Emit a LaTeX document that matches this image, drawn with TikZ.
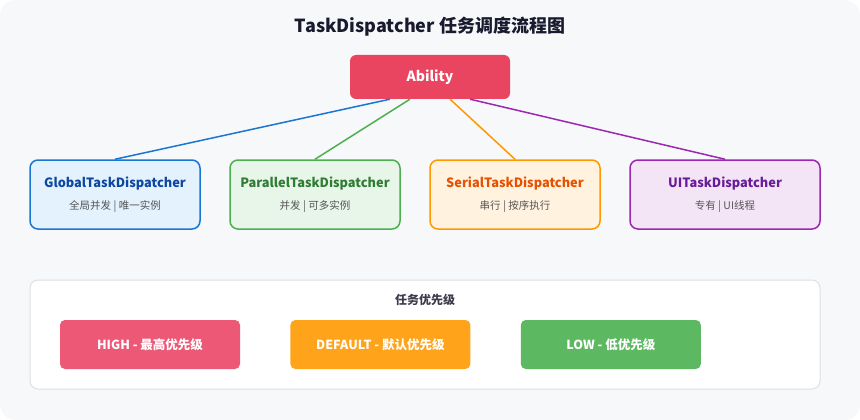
\documentclass[tikz,border=0pt]{standalone}
\usepackage{fontspec}
\setmainfont{Noto Sans CJK SC}
\usetikzlibrary{positioning,calc}
\definecolor{PageGray}{HTML}{F7F8FA}
\definecolor{TitleInk}{HTML}{1A1A2E}
\definecolor{AbilityRed}{HTML}{E94560}
\definecolor{GlobalBlue}{HTML}{1976D2}
\definecolor{GlobalFill}{HTML}{E3F2FD}
\definecolor{GlobalInk}{HTML}{0D47A1}
\definecolor{ParallelGreen}{HTML}{4CAF50}
\definecolor{ParallelFill}{HTML}{E8F5E9}
\definecolor{ParallelInk}{HTML}{2E7D32}
\definecolor{SerialOrange}{HTML}{FF9800}
\definecolor{SerialFill}{HTML}{FFF3E0}
\definecolor{SerialInk}{HTML}{E65100}
\definecolor{UIPurple}{HTML}{9C27B0}
\definecolor{UIFill}{HTML}{F3E5F5}
\definecolor{UIInk}{HTML}{6A1B9A}
\definecolor{SubGray}{HTML}{555555}
\definecolor{PanelLine}{HTML}{E0E0E0}
\definecolor{HighRed}{HTML}{EC5875}
\definecolor{DefaultAmber}{HTML}{FFA31A}
\definecolor{LowGreen}{HTML}{5DB862}

\begin{document}
\begin{tikzpicture}[
        x=1pt,y=-1pt,
        node distance=28.5pt,
        dispatcher/.style n args={2}{draw=#1,fill=#2,line width=1.5pt,rounded corners=8pt,minimum width=170pt,minimum height=69pt,align=center,inner sep=0pt},
        tag/.style={fill=#1,rounded corners=5pt,minimum width=180pt,minimum height=49pt,text=white,font=\fontsize{12.5}{15}\selectfont\bfseries},
        link/.style={line width=1.5pt,draw=#1}
      ]
        \useasboundingbox (0,0) rectangle (860,420);
        \fill[white] (0,0) rectangle (860,420);
        \fill[PageGray,rounded corners=16pt] (0,0) rectangle (860,420);
        \node[font=\fontsize{18}{22}\selectfont\bfseries,text=TitleInk] (title) at (430,27) {TaskDispatcher 任务调度流程图};
        \node[fill=AbilityRed,rounded corners=6pt,minimum width=160pt,minimum height=44pt,text=white,font=\fontsize{14}{17}\selectfont\bfseries] (ability) at (430,77) {Ability};
        \node[dispatcher={GlobalBlue}{GlobalFill}] (global) at (115,194.5)
          {{\fontsize{12.8}{15}\selectfont\bfseries\color{GlobalInk}GlobalTaskDispatcher}\\[10pt]{\fontsize{10.5}{12}\selectfont\color{SubGray}全局并发 | 唯一实例}};
        \node[dispatcher={ParallelGreen}{ParallelFill},right=of global] (parallel)
          {{\fontsize{12.8}{15}\selectfont\bfseries\color{ParallelInk}ParallelTaskDispatcher}\\[10pt]{\fontsize{10.5}{12}\selectfont\color{SubGray}并发 | 可多实例}};
        \node[dispatcher={SerialOrange}{SerialFill},right=of parallel] (serial)
          {{\fontsize{12.8}{15}\selectfont\bfseries\color{SerialInk}SerialTaskDispatcher}\\[10pt]{\fontsize{10.5}{12}\selectfont\color{SubGray}串行 | 按序执行}};
        \node[dispatcher={UIPurple}{UIFill},minimum width=190pt,right=of serial] (ui)
          {{\fontsize{12.8}{15}\selectfont\bfseries\color{UIInk}UITaskDispatcher}\\[10pt]{\fontsize{10.5}{12}\selectfont\color{SubGray}专有 | UI线程}};
        \draw[link=GlobalBlue] ($(ability.south west)!0.25!(ability.south east)$) -- (global.north);
        \draw[link=ParallelGreen] ($(ability.south west)!0.375!(ability.south east)$) -- (parallel.north);
        \draw[link=SerialOrange] ($(ability.south west)!0.625!(ability.south east)$) -- (serial.north);
        \draw[link=UIPurple] ($(ability.south west)!0.75!(ability.south east)$) -- (ui.north);
        % priority panel
        \node[draw=PanelLine,fill=white,line width=1pt,rounded corners=8pt,minimum width=790pt,minimum height=109pt] (panel) at (425,334.5) {};
        \node[font=\fontsize{12}{14}\selectfont\bfseries,text=TitleInk!85] (ptitle) at (425,300) {任务优先级};
        \node[tag=HighRed] (high) at (150,344.5) {HIGH - 最高优先级};
        \node[tag=DefaultAmber,right=50pt of high] (default) {DEFAULT - 默认优先级};
        \node[tag=LowGreen,right=50pt of default] (low) {LOW - 低优先级};
      \end{tikzpicture}
\end{document}
